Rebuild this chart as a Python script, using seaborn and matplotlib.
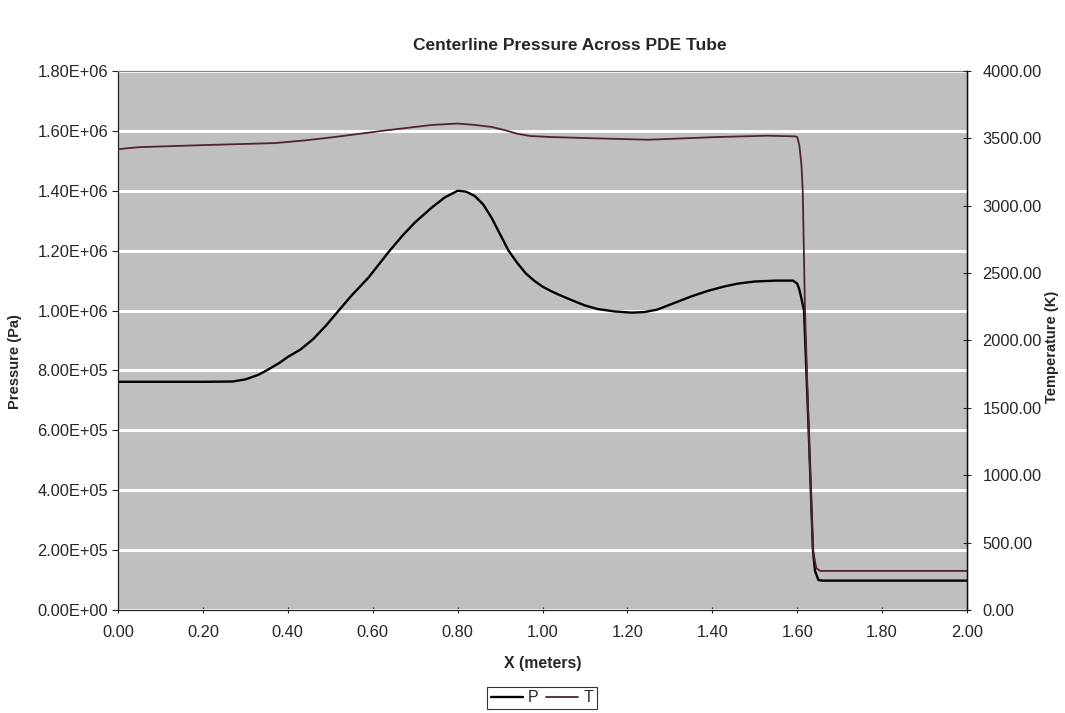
import numpy as np
import pandas as pd
import matplotlib
matplotlib.use("Agg")
import matplotlib.pyplot as plt
from matplotlib.ticker import FuncFormatter
import seaborn as sns

# ---- data ----
x_p = [0.00, 0.10, 0.20, 0.27, 0.30, 0.33, 0.35, 0.38, 0.40, 0.43, 0.46, 0.49, 0.52,
       0.55, 0.59, 0.64, 0.67, 0.70, 0.74, 0.77, 0.80, 0.82, 0.84, 0.86, 0.88, 0.90,
       0.92, 0.94, 0.96, 0.98, 1.00, 1.02, 1.04, 1.07, 1.10, 1.13, 1.17, 1.21, 1.24,
       1.27, 1.31, 1.35, 1.39, 1.43, 1.46, 1.50, 1.55, 1.59, 1.60, 1.605, 1.61, 1.616,
       1.627, 1.637, 1.642, 1.65, 1.66, 1.80, 2.00]
p_vals = [7.62e5, 7.62e5, 7.62e5, 7.63e5, 7.7e5, 7.85e5, 8.0e5, 8.25e5, 8.45e5, 8.7e5,
          9.05e5, 9.5e5, 1.0e6, 1.05e6, 1.11e6, 1.20e6, 1.25e6, 1.295e6, 1.345e6, 1.378e6,
          1.40e6, 1.397e6, 1.383e6, 1.355e6, 1.31e6, 1.255e6, 1.20e6, 1.16e6, 1.125e6,
          1.10e6, 1.08e6, 1.065e6, 1.052e6, 1.034e6, 1.017e6, 1.005e6, 0.997e6, 0.993e6,
          0.995e6, 1.003e6, 1.025e6, 1.047e6, 1.066e6, 1.081e6, 1.09e6, 1.097e6, 1.10e6,
          1.10e6, 1.09e6, 1.07e6, 1.04e6, 1.0e6, 6.0e5, 2.0e5, 1.3e5, 1.0e5, 0.98e5,
          0.98e5, 0.98e5]

x_t = [0.00, 0.05, 0.20, 0.37, 0.44, 0.51, 0.62, 0.70, 0.74, 0.80, 0.84, 0.88, 0.91,
       0.94, 0.97, 1.02, 1.13, 1.25, 1.41, 1.53, 1.595, 1.600, 1.605, 1.610, 1.613,
       1.618, 1.627, 1.637, 1.645, 1.654, 1.80, 2.00]
t_vals = [3420, 3435, 3450, 3465, 3485, 3510, 3555, 3585, 3600, 3610, 3600, 3585, 3562,
          3535, 3518, 3510, 3500, 3490, 3510, 3520, 3515, 3510, 3450, 3300, 3110, 2270,
          1333, 444, 310, 290, 290, 290]

x_ticks = [0.0, 0.2, 0.4, 0.6, 0.8, 1.0, 1.2, 1.4, 1.6, 1.8, 2.0]
p_ticks = [0, 2e5, 4e5, 6e5, 8e5, 1.0e6, 1.2e6, 1.4e6, 1.6e6, 1.8e6]
t_ticks = [0, 500, 1000, 1500, 2000, 2500, 3000, 3500, 4000]

title = "Centerline Pressure Across PDE Tube"
x_label = "X (meters)"
p_label = "Pressure (Pa)"
t_label = "Temperature (K)"

# ---- style ----
sns.set_style("white")
plt.rcParams["font.family"] = ["Liberation Sans", "DejaVu Sans"]

fig = plt.figure(figsize=(10.65, 7.13), dpi=100)
ax = fig.add_axes([0.1108, 0.1445, 0.7972, 0.7559])
ax.set_facecolor("#bfbfbf")

sns.lineplot(x=x_p, y=p_vals, ax=ax, color="black", linewidth=1.7, legend=False)
ax2 = ax.twinx()
t_color = "#4f2330"
sns.lineplot(x=x_t, y=t_vals, ax=ax2, color=t_color, linewidth=1.3, legend=False)

ax.set_xlim(0, 2)
ax.set_ylim(0, 1.8e6)
ax2.set_ylim(0, 4000)

ax.set_xticks(x_ticks)
ax.set_yticks(p_ticks)
ax2.set_yticks(t_ticks)
ax.xaxis.set_major_formatter(FuncFormatter(lambda v, _: f"{v:.2f}"))
ax.yaxis.set_major_formatter(FuncFormatter(lambda v, _: f"{v:.2E}"))
ax2.yaxis.set_major_formatter(FuncFormatter(lambda v, _: f"{v:.2f}"))

ax.yaxis.grid(True, color="white", linewidth=2.2)
ax.xaxis.grid(False)
ax.set_axisbelow(True)

for sp in ["left", "bottom", "right", "top"]:
    ax.spines[sp].set_visible(True)
    ax.spines[sp].set_color("#222222")
    ax.spines[sp].set_linewidth(0.9)
ax.spines["top"].set_color("#888888")
ax2.spines["right"].set_color("#111111")
ax2.spines["right"].set_linewidth(1.0)
for sp in ["left", "bottom", "top"]:
    ax2.spines[sp].set_visible(False)

ax.tick_params(axis="y", direction="out", length=4, width=0.8, labelsize=11.8, pad=3, left=True)
ax.tick_params(axis="x", direction="inout", length=4, width=0.8, labelsize=11.8, pad=9, bottom=True)
ax2.tick_params(axis="y", direction="inout", length=6, width=0.8, labelsize=11.8, pad=8, right=True)

ax.set_xlabel(x_label, fontsize=11.4, fontweight="bold", labelpad=11)
ax.set_ylabel(p_label, fontsize=10.5, fontweight="bold", labelpad=6)
ax2.set_ylabel(t_label, fontsize=10.5, fontweight="bold", labelpad=6)
ax.yaxis.set_label_coords(-0.113, 1 - (362 - 71) / 539)
ax2.yaxis.set_label_coords(1.092, 1 - (347 - 71) / 539)

fig.text(570 / 1065, 1 - 45 / 713, title, fontsize=12.5, fontweight="bold",
         ha="center", va="center")

handles = [ax.lines[0], ax2.lines[0]]
leg = fig.legend(handles, ["P", "T"], loc="center",
                 bbox_to_anchor=(542 / 1065, 1 - 698 / 713), ncol=2, frameon=True,
                 fancybox=False, edgecolor="black", fontsize=11.5,
                 handlelength=2.0, handletextpad=0.3, columnspacing=0.5,
                 borderpad=0.25)
leg.get_frame().set_linewidth(0.8)

fig.savefig("out.png", dpi=100, facecolor="white")
